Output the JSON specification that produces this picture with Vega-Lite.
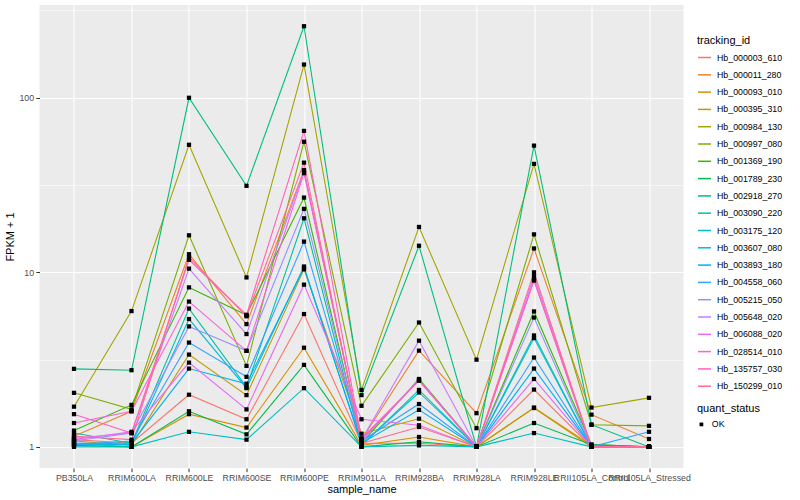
{
  "$schema": "https://vega.github.io/schema/vega-lite/v6.json",
  "autosize": {"type": "none"},
  "padding": {"left": 39.5, "top": 5, "right": 116.5, "bottom": 32},
  "width": 644,
  "height": 463,
  "background": "white",
  "config": {
    "font": "Liberation Sans",
    "view": {"fill": "#EBEBEB", "stroke": null},
    "axis": {"domain": false, "tickColor": "#333333", "tickSize": 3.7, "labelColor": "#4D4D4D", "labelFontSize": 8.8, "labelPadding": 2.2, "titleFontSize": 11, "titleFontWeight": "normal", "titleColor": "black", "gridColor": "white", "gridWidth": 1.1},
    "legend": {"titleFontSize": 11, "titleFontWeight": "normal", "titleColor": "black", "labelFontSize": 8.8, "labelColor": "black"}
  },
  "data": {"values": [
    {"tracking_id":"Hb_000003_610","sample_name":"PB350LA","FPKM":1.10,"quant_status":"OK"},
    {"tracking_id":"Hb_000003_610","sample_name":"RRIM600LA","FPKM":1.05,"quant_status":"OK"},
    {"tracking_id":"Hb_000003_610","sample_name":"RRIM600LE","FPKM":1.99,"quant_status":"OK"},
    {"tracking_id":"Hb_000003_610","sample_name":"RRIM600SE","FPKM":1.44,"quant_status":"OK"},
    {"tracking_id":"Hb_000003_610","sample_name":"RRIM600PE","FPKM":5.77,"quant_status":"OK"},
    {"tracking_id":"Hb_000003_610","sample_name":"RRIM901LA","FPKM":1.05,"quant_status":"OK"},
    {"tracking_id":"Hb_000003_610","sample_name":"RRIM928BA","FPKM":1.05,"quant_status":"OK"},
    {"tracking_id":"Hb_000003_610","sample_name":"RRIM928LA","FPKM":1.00,"quant_status":"OK"},
    {"tracking_id":"Hb_000003_610","sample_name":"RRIM928LE","FPKM":2.13,"quant_status":"OK"},
    {"tracking_id":"Hb_000003_610","sample_name":"RRII105LA_Control","FPKM":1.00,"quant_status":"OK"},
    {"tracking_id":"Hb_000003_610","sample_name":"RRII105LA_Stressed","FPKM":1.00,"quant_status":"OK"},
    {"tracking_id":"Hb_000011_280","sample_name":"PB350LA","FPKM":1.15,"quant_status":"OK"},
    {"tracking_id":"Hb_000011_280","sample_name":"RRIM600LA","FPKM":1.60,"quant_status":"OK"},
    {"tracking_id":"Hb_000011_280","sample_name":"RRIM600LE","FPKM":12.7,"quant_status":"OK"},
    {"tracking_id":"Hb_000011_280","sample_name":"RRIM600SE","FPKM":5.05,"quant_status":"OK"},
    {"tracking_id":"Hb_000011_280","sample_name":"RRIM600PE","FPKM":38.5,"quant_status":"OK"},
    {"tracking_id":"Hb_000011_280","sample_name":"RRIM901LA","FPKM":1.10,"quant_status":"OK"},
    {"tracking_id":"Hb_000011_280","sample_name":"RRIM928BA","FPKM":3.56,"quant_status":"OK"},
    {"tracking_id":"Hb_000011_280","sample_name":"RRIM928LA","FPKM":1.56,"quant_status":"OK"},
    {"tracking_id":"Hb_000011_280","sample_name":"RRIM928LE","FPKM":13.7,"quant_status":"OK"},
    {"tracking_id":"Hb_000011_280","sample_name":"RRII105LA_Control","FPKM":1.53,"quant_status":"OK"},
    {"tracking_id":"Hb_000011_280","sample_name":"RRII105LA_Stressed","FPKM":1.11,"quant_status":"OK"},
    {"tracking_id":"Hb_000093_010","sample_name":"PB350LA","FPKM":1.05,"quant_status":"OK"},
    {"tracking_id":"Hb_000093_010","sample_name":"RRIM600LA","FPKM":1.00,"quant_status":"OK"},
    {"tracking_id":"Hb_000093_010","sample_name":"RRIM600LE","FPKM":1.54,"quant_status":"OK"},
    {"tracking_id":"Hb_000093_010","sample_name":"RRIM600SE","FPKM":1.29,"quant_status":"OK"},
    {"tracking_id":"Hb_000093_010","sample_name":"RRIM600PE","FPKM":3.70,"quant_status":"OK"},
    {"tracking_id":"Hb_000093_010","sample_name":"RRIM901LA","FPKM":1.02,"quant_status":"OK"},
    {"tracking_id":"Hb_000093_010","sample_name":"RRIM928BA","FPKM":1.14,"quant_status":"OK"},
    {"tracking_id":"Hb_000093_010","sample_name":"RRIM928LA","FPKM":1.00,"quant_status":"OK"},
    {"tracking_id":"Hb_000093_010","sample_name":"RRIM928LE","FPKM":1.67,"quant_status":"OK"},
    {"tracking_id":"Hb_000093_010","sample_name":"RRII105LA_Control","FPKM":1.00,"quant_status":"OK"},
    {"tracking_id":"Hb_000093_010","sample_name":"RRII105LA_Stressed","FPKM":1.00,"quant_status":"OK"},
    {"tracking_id":"Hb_000395_310","sample_name":"PB350LA","FPKM":1.08,"quant_status":"OK"},
    {"tracking_id":"Hb_000395_310","sample_name":"RRIM600LA","FPKM":1.02,"quant_status":"OK"},
    {"tracking_id":"Hb_000395_310","sample_name":"RRIM600LE","FPKM":3.38,"quant_status":"OK"},
    {"tracking_id":"Hb_000395_310","sample_name":"RRIM600SE","FPKM":1.98,"quant_status":"OK"},
    {"tracking_id":"Hb_000395_310","sample_name":"RRIM600PE","FPKM":10.4,"quant_status":"OK"},
    {"tracking_id":"Hb_000395_310","sample_name":"RRIM901LA","FPKM":1.19,"quant_status":"OK"},
    {"tracking_id":"Hb_000395_310","sample_name":"RRIM928BA","FPKM":1.45,"quant_status":"OK"},
    {"tracking_id":"Hb_000395_310","sample_name":"RRIM928LA","FPKM":1.00,"quant_status":"OK"},
    {"tracking_id":"Hb_000395_310","sample_name":"RRIM928LE","FPKM":1.68,"quant_status":"OK"},
    {"tracking_id":"Hb_000395_310","sample_name":"RRII105LA_Control","FPKM":1.02,"quant_status":"OK"},
    {"tracking_id":"Hb_000395_310","sample_name":"RRII105LA_Stressed","FPKM":1.00,"quant_status":"OK"},
    {"tracking_id":"Hb_000984_130","sample_name":"PB350LA","FPKM":1.70,"quant_status":"OK"},
    {"tracking_id":"Hb_000984_130","sample_name":"RRIM600LA","FPKM":6.00,"quant_status":"OK"},
    {"tracking_id":"Hb_000984_130","sample_name":"RRIM600LE","FPKM":53.8,"quant_status":"OK"},
    {"tracking_id":"Hb_000984_130","sample_name":"RRIM600SE","FPKM":9.35,"quant_status":"OK"},
    {"tracking_id":"Hb_000984_130","sample_name":"RRIM600PE","FPKM":155,"quant_status":"OK"},
    {"tracking_id":"Hb_000984_130","sample_name":"RRIM901LA","FPKM":2.12,"quant_status":"OK"},
    {"tracking_id":"Hb_000984_130","sample_name":"RRIM928BA","FPKM":18.2,"quant_status":"OK"},
    {"tracking_id":"Hb_000984_130","sample_name":"RRIM928LA","FPKM":3.16,"quant_status":"OK"},
    {"tracking_id":"Hb_000984_130","sample_name":"RRIM928LE","FPKM":41.8,"quant_status":"OK"},
    {"tracking_id":"Hb_000984_130","sample_name":"RRII105LA_Control","FPKM":1.68,"quant_status":"OK"},
    {"tracking_id":"Hb_000984_130","sample_name":"RRII105LA_Stressed","FPKM":1.91,"quant_status":"OK"},
    {"tracking_id":"Hb_000997_080","sample_name":"PB350LA","FPKM":2.04,"quant_status":"OK"},
    {"tracking_id":"Hb_000997_080","sample_name":"RRIM600LA","FPKM":1.64,"quant_status":"OK"},
    {"tracking_id":"Hb_000997_080","sample_name":"RRIM600LE","FPKM":16.3,"quant_status":"OK"},
    {"tracking_id":"Hb_000997_080","sample_name":"RRIM600SE","FPKM":2.91,"quant_status":"OK"},
    {"tracking_id":"Hb_000997_080","sample_name":"RRIM600PE","FPKM":56.0,"quant_status":"OK"},
    {"tracking_id":"Hb_000997_080","sample_name":"RRIM901LA","FPKM":1.72,"quant_status":"OK"},
    {"tracking_id":"Hb_000997_080","sample_name":"RRIM928BA","FPKM":5.16,"quant_status":"OK"},
    {"tracking_id":"Hb_000997_080","sample_name":"RRIM928LA","FPKM":1.28,"quant_status":"OK"},
    {"tracking_id":"Hb_000997_080","sample_name":"RRIM928LE","FPKM":16.5,"quant_status":"OK"},
    {"tracking_id":"Hb_000997_080","sample_name":"RRII105LA_Control","FPKM":1.34,"quant_status":"OK"},
    {"tracking_id":"Hb_000997_080","sample_name":"RRII105LA_Stressed","FPKM":1.32,"quant_status":"OK"},
    {"tracking_id":"Hb_001369_190","sample_name":"PB350LA","FPKM":1.24,"quant_status":"OK"},
    {"tracking_id":"Hb_001369_190","sample_name":"RRIM600LA","FPKM":1.74,"quant_status":"OK"},
    {"tracking_id":"Hb_001369_190","sample_name":"RRIM600LE","FPKM":8.2,"quant_status":"OK"},
    {"tracking_id":"Hb_001369_190","sample_name":"RRIM600SE","FPKM":5.70,"quant_status":"OK"},
    {"tracking_id":"Hb_001369_190","sample_name":"RRIM600PE","FPKM":26.8,"quant_status":"OK"},
    {"tracking_id":"Hb_001369_190","sample_name":"RRIM901LA","FPKM":1.05,"quant_status":"OK"},
    {"tracking_id":"Hb_001369_190","sample_name":"RRIM928BA","FPKM":2.45,"quant_status":"OK"},
    {"tracking_id":"Hb_001369_190","sample_name":"RRIM928LA","FPKM":1.00,"quant_status":"OK"},
    {"tracking_id":"Hb_001369_190","sample_name":"RRIM928LE","FPKM":5.97,"quant_status":"OK"},
    {"tracking_id":"Hb_001369_190","sample_name":"RRII105LA_Control","FPKM":1.03,"quant_status":"OK"},
    {"tracking_id":"Hb_001369_190","sample_name":"RRII105LA_Stressed","FPKM":1.00,"quant_status":"OK"},
    {"tracking_id":"Hb_001789_230","sample_name":"PB350LA","FPKM":1.02,"quant_status":"OK"},
    {"tracking_id":"Hb_001789_230","sample_name":"RRIM600LA","FPKM":1.00,"quant_status":"OK"},
    {"tracking_id":"Hb_001789_230","sample_name":"RRIM600LE","FPKM":1.60,"quant_status":"OK"},
    {"tracking_id":"Hb_001789_230","sample_name":"RRIM600SE","FPKM":1.18,"quant_status":"OK"},
    {"tracking_id":"Hb_001789_230","sample_name":"RRIM600PE","FPKM":2.95,"quant_status":"OK"},
    {"tracking_id":"Hb_001789_230","sample_name":"RRIM901LA","FPKM":1.00,"quant_status":"OK"},
    {"tracking_id":"Hb_001789_230","sample_name":"RRIM928BA","FPKM":1.07,"quant_status":"OK"},
    {"tracking_id":"Hb_001789_230","sample_name":"RRIM928LA","FPKM":1.00,"quant_status":"OK"},
    {"tracking_id":"Hb_001789_230","sample_name":"RRIM928LE","FPKM":1.37,"quant_status":"OK"},
    {"tracking_id":"Hb_001789_230","sample_name":"RRII105LA_Control","FPKM":1.03,"quant_status":"OK"},
    {"tracking_id":"Hb_001789_230","sample_name":"RRII105LA_Stressed","FPKM":1.00,"quant_status":"OK"},
    {"tracking_id":"Hb_002918_270","sample_name":"PB350LA","FPKM":2.80,"quant_status":"OK"},
    {"tracking_id":"Hb_002918_270","sample_name":"RRIM600LA","FPKM":2.75,"quant_status":"OK"},
    {"tracking_id":"Hb_002918_270","sample_name":"RRIM600LE","FPKM":100,"quant_status":"OK"},
    {"tracking_id":"Hb_002918_270","sample_name":"RRIM600SE","FPKM":31.3,"quant_status":"OK"},
    {"tracking_id":"Hb_002918_270","sample_name":"RRIM600PE","FPKM":257,"quant_status":"OK"},
    {"tracking_id":"Hb_002918_270","sample_name":"RRIM901LA","FPKM":1.98,"quant_status":"OK"},
    {"tracking_id":"Hb_002918_270","sample_name":"RRIM928BA","FPKM":14.2,"quant_status":"OK"},
    {"tracking_id":"Hb_002918_270","sample_name":"RRIM928LA","FPKM":1.00,"quant_status":"OK"},
    {"tracking_id":"Hb_002918_270","sample_name":"RRIM928LE","FPKM":53.2,"quant_status":"OK"},
    {"tracking_id":"Hb_002918_270","sample_name":"RRII105LA_Control","FPKM":1.34,"quant_status":"OK"},
    {"tracking_id":"Hb_002918_270","sample_name":"RRII105LA_Stressed","FPKM":1.00,"quant_status":"OK"},
    {"tracking_id":"Hb_003090_220","sample_name":"PB350LA","FPKM":1.20,"quant_status":"OK"},
    {"tracking_id":"Hb_003090_220","sample_name":"RRIM600LA","FPKM":1.05,"quant_status":"OK"},
    {"tracking_id":"Hb_003090_220","sample_name":"RRIM600LE","FPKM":6.2,"quant_status":"OK"},
    {"tracking_id":"Hb_003090_220","sample_name":"RRIM600SE","FPKM":2.20,"quant_status":"OK"},
    {"tracking_id":"Hb_003090_220","sample_name":"RRIM600PE","FPKM":20.4,"quant_status":"OK"},
    {"tracking_id":"Hb_003090_220","sample_name":"RRIM901LA","FPKM":1.02,"quant_status":"OK"},
    {"tracking_id":"Hb_003090_220","sample_name":"RRIM928BA","FPKM":2.12,"quant_status":"OK"},
    {"tracking_id":"Hb_003090_220","sample_name":"RRIM928LA","FPKM":1.00,"quant_status":"OK"},
    {"tracking_id":"Hb_003090_220","sample_name":"RRIM928LE","FPKM":4.35,"quant_status":"OK"},
    {"tracking_id":"Hb_003090_220","sample_name":"RRII105LA_Control","FPKM":1.00,"quant_status":"OK"},
    {"tracking_id":"Hb_003090_220","sample_name":"RRII105LA_Stressed","FPKM":1.00,"quant_status":"OK"},
    {"tracking_id":"Hb_003175_120","sample_name":"PB350LA","FPKM":1.00,"quant_status":"OK"},
    {"tracking_id":"Hb_003175_120","sample_name":"RRIM600LA","FPKM":1.00,"quant_status":"OK"},
    {"tracking_id":"Hb_003175_120","sample_name":"RRIM600LE","FPKM":1.22,"quant_status":"OK"},
    {"tracking_id":"Hb_003175_120","sample_name":"RRIM600SE","FPKM":1.10,"quant_status":"OK"},
    {"tracking_id":"Hb_003175_120","sample_name":"RRIM600PE","FPKM":2.17,"quant_status":"OK"},
    {"tracking_id":"Hb_003175_120","sample_name":"RRIM901LA","FPKM":1.00,"quant_status":"OK"},
    {"tracking_id":"Hb_003175_120","sample_name":"RRIM928BA","FPKM":1.02,"quant_status":"OK"},
    {"tracking_id":"Hb_003175_120","sample_name":"RRIM928LA","FPKM":1.00,"quant_status":"OK"},
    {"tracking_id":"Hb_003175_120","sample_name":"RRIM928LE","FPKM":1.20,"quant_status":"OK"},
    {"tracking_id":"Hb_003175_120","sample_name":"RRII105LA_Control","FPKM":1.00,"quant_status":"OK"},
    {"tracking_id":"Hb_003175_120","sample_name":"RRII105LA_Stressed","FPKM":1.00,"quant_status":"OK"},
    {"tracking_id":"Hb_003607_080","sample_name":"PB350LA","FPKM":1.03,"quant_status":"OK"},
    {"tracking_id":"Hb_003607_080","sample_name":"RRIM600LA","FPKM":1.03,"quant_status":"OK"},
    {"tracking_id":"Hb_003607_080","sample_name":"RRIM600LE","FPKM":5.4,"quant_status":"OK"},
    {"tracking_id":"Hb_003607_080","sample_name":"RRIM600SE","FPKM":2.17,"quant_status":"OK"},
    {"tracking_id":"Hb_003607_080","sample_name":"RRIM600PE","FPKM":10.8,"quant_status":"OK"},
    {"tracking_id":"Hb_003607_080","sample_name":"RRIM901LA","FPKM":1.03,"quant_status":"OK"},
    {"tracking_id":"Hb_003607_080","sample_name":"RRIM928BA","FPKM":2.05,"quant_status":"OK"},
    {"tracking_id":"Hb_003607_080","sample_name":"RRIM928LA","FPKM":1.00,"quant_status":"OK"},
    {"tracking_id":"Hb_003607_080","sample_name":"RRIM928LE","FPKM":4.20,"quant_status":"OK"},
    {"tracking_id":"Hb_003607_080","sample_name":"RRII105LA_Control","FPKM":1.00,"quant_status":"OK"},
    {"tracking_id":"Hb_003607_080","sample_name":"RRII105LA_Stressed","FPKM":1.00,"quant_status":"OK"},
    {"tracking_id":"Hb_003893_180","sample_name":"PB350LA","FPKM":1.05,"quant_status":"OK"},
    {"tracking_id":"Hb_003893_180","sample_name":"RRIM600LA","FPKM":1.05,"quant_status":"OK"},
    {"tracking_id":"Hb_003893_180","sample_name":"RRIM600LE","FPKM":2.81,"quant_status":"OK"},
    {"tracking_id":"Hb_003893_180","sample_name":"RRIM600SE","FPKM":2.30,"quant_status":"OK"},
    {"tracking_id":"Hb_003893_180","sample_name":"RRIM600PE","FPKM":10.6,"quant_status":"OK"},
    {"tracking_id":"Hb_003893_180","sample_name":"RRIM901LA","FPKM":1.05,"quant_status":"OK"},
    {"tracking_id":"Hb_003893_180","sample_name":"RRIM928BA","FPKM":1.63,"quant_status":"OK"},
    {"tracking_id":"Hb_003893_180","sample_name":"RRIM928LA","FPKM":1.00,"quant_status":"OK"},
    {"tracking_id":"Hb_003893_180","sample_name":"RRIM928LE","FPKM":2.81,"quant_status":"OK"},
    {"tracking_id":"Hb_003893_180","sample_name":"RRII105LA_Control","FPKM":1.00,"quant_status":"OK"},
    {"tracking_id":"Hb_003893_180","sample_name":"RRII105LA_Stressed","FPKM":1.00,"quant_status":"OK"},
    {"tracking_id":"Hb_004558_060","sample_name":"PB350LA","FPKM":1.03,"quant_status":"OK"},
    {"tracking_id":"Hb_004558_060","sample_name":"RRIM600LA","FPKM":1.08,"quant_status":"OK"},
    {"tracking_id":"Hb_004558_060","sample_name":"RRIM600LE","FPKM":3.96,"quant_status":"OK"},
    {"tracking_id":"Hb_004558_060","sample_name":"RRIM600SE","FPKM":2.52,"quant_status":"OK"},
    {"tracking_id":"Hb_004558_060","sample_name":"RRIM600PE","FPKM":15.0,"quant_status":"OK"},
    {"tracking_id":"Hb_004558_060","sample_name":"RRIM901LA","FPKM":1.08,"quant_status":"OK"},
    {"tracking_id":"Hb_004558_060","sample_name":"RRIM928BA","FPKM":1.76,"quant_status":"OK"},
    {"tracking_id":"Hb_004558_060","sample_name":"RRIM928LA","FPKM":1.00,"quant_status":"OK"},
    {"tracking_id":"Hb_004558_060","sample_name":"RRIM928LE","FPKM":3.25,"quant_status":"OK"},
    {"tracking_id":"Hb_004558_060","sample_name":"RRII105LA_Control","FPKM":1.00,"quant_status":"OK"},
    {"tracking_id":"Hb_004558_060","sample_name":"RRII105LA_Stressed","FPKM":1.22,"quant_status":"OK"},
    {"tracking_id":"Hb_005215_050","sample_name":"PB350LA","FPKM":1.08,"quant_status":"OK"},
    {"tracking_id":"Hb_005215_050","sample_name":"RRIM600LA","FPKM":1.20,"quant_status":"OK"},
    {"tracking_id":"Hb_005215_050","sample_name":"RRIM600LE","FPKM":4.9,"quant_status":"OK"},
    {"tracking_id":"Hb_005215_050","sample_name":"RRIM600SE","FPKM":3.55,"quant_status":"OK"},
    {"tracking_id":"Hb_005215_050","sample_name":"RRIM600PE","FPKM":23.1,"quant_status":"OK"},
    {"tracking_id":"Hb_005215_050","sample_name":"RRIM901LA","FPKM":1.08,"quant_status":"OK"},
    {"tracking_id":"Hb_005215_050","sample_name":"RRIM928BA","FPKM":2.42,"quant_status":"OK"},
    {"tracking_id":"Hb_005215_050","sample_name":"RRIM928LA","FPKM":1.00,"quant_status":"OK"},
    {"tracking_id":"Hb_005215_050","sample_name":"RRIM928LE","FPKM":5.51,"quant_status":"OK"},
    {"tracking_id":"Hb_005215_050","sample_name":"RRII105LA_Control","FPKM":1.00,"quant_status":"OK"},
    {"tracking_id":"Hb_005215_050","sample_name":"RRII105LA_Stressed","FPKM":1.00,"quant_status":"OK"},
    {"tracking_id":"Hb_005648_020","sample_name":"PB350LA","FPKM":1.12,"quant_status":"OK"},
    {"tracking_id":"Hb_005648_020","sample_name":"RRIM600LA","FPKM":1.20,"quant_status":"OK"},
    {"tracking_id":"Hb_005648_020","sample_name":"RRIM600LE","FPKM":10.5,"quant_status":"OK"},
    {"tracking_id":"Hb_005648_020","sample_name":"RRIM600SE","FPKM":4.43,"quant_status":"OK"},
    {"tracking_id":"Hb_005648_020","sample_name":"RRIM600PE","FPKM":38.0,"quant_status":"OK"},
    {"tracking_id":"Hb_005648_020","sample_name":"RRIM901LA","FPKM":1.10,"quant_status":"OK"},
    {"tracking_id":"Hb_005648_020","sample_name":"RRIM928BA","FPKM":4.06,"quant_status":"OK"},
    {"tracking_id":"Hb_005648_020","sample_name":"RRIM928LA","FPKM":1.00,"quant_status":"OK"},
    {"tracking_id":"Hb_005648_020","sample_name":"RRIM928LE","FPKM":9.5,"quant_status":"OK"},
    {"tracking_id":"Hb_005648_020","sample_name":"RRII105LA_Control","FPKM":1.00,"quant_status":"OK"},
    {"tracking_id":"Hb_005648_020","sample_name":"RRII105LA_Stressed","FPKM":1.00,"quant_status":"OK"},
    {"tracking_id":"Hb_006088_020","sample_name":"PB350LA","FPKM":1.10,"quant_status":"OK"},
    {"tracking_id":"Hb_006088_020","sample_name":"RRIM600LA","FPKM":1.22,"quant_status":"OK"},
    {"tracking_id":"Hb_006088_020","sample_name":"RRIM600LE","FPKM":3.04,"quant_status":"OK"},
    {"tracking_id":"Hb_006088_020","sample_name":"RRIM600SE","FPKM":1.64,"quant_status":"OK"},
    {"tracking_id":"Hb_006088_020","sample_name":"RRIM600PE","FPKM":8.5,"quant_status":"OK"},
    {"tracking_id":"Hb_006088_020","sample_name":"RRIM901LA","FPKM":1.44,"quant_status":"OK"},
    {"tracking_id":"Hb_006088_020","sample_name":"RRIM928BA","FPKM":1.33,"quant_status":"OK"},
    {"tracking_id":"Hb_006088_020","sample_name":"RRIM928LA","FPKM":1.00,"quant_status":"OK"},
    {"tracking_id":"Hb_006088_020","sample_name":"RRIM928LE","FPKM":2.45,"quant_status":"OK"},
    {"tracking_id":"Hb_006088_020","sample_name":"RRII105LA_Control","FPKM":1.00,"quant_status":"OK"},
    {"tracking_id":"Hb_006088_020","sample_name":"RRII105LA_Stressed","FPKM":1.00,"quant_status":"OK"},
    {"tracking_id":"Hb_028514_010","sample_name":"PB350LA","FPKM":1.37,"quant_status":"OK"},
    {"tracking_id":"Hb_028514_010","sample_name":"RRIM600LA","FPKM":1.60,"quant_status":"OK"},
    {"tracking_id":"Hb_028514_010","sample_name":"RRIM600LE","FPKM":6.8,"quant_status":"OK"},
    {"tracking_id":"Hb_028514_010","sample_name":"RRIM600SE","FPKM":3.55,"quant_status":"OK"},
    {"tracking_id":"Hb_028514_010","sample_name":"RRIM600PE","FPKM":37.0,"quant_status":"OK"},
    {"tracking_id":"Hb_028514_010","sample_name":"RRIM901LA","FPKM":1.10,"quant_status":"OK"},
    {"tracking_id":"Hb_028514_010","sample_name":"RRIM928BA","FPKM":2.40,"quant_status":"OK"},
    {"tracking_id":"Hb_028514_010","sample_name":"RRIM928LA","FPKM":1.00,"quant_status":"OK"},
    {"tracking_id":"Hb_028514_010","sample_name":"RRIM928LE","FPKM":9.0,"quant_status":"OK"},
    {"tracking_id":"Hb_028514_010","sample_name":"RRII105LA_Control","FPKM":1.00,"quant_status":"OK"},
    {"tracking_id":"Hb_028514_010","sample_name":"RRII105LA_Stressed","FPKM":1.00,"quant_status":"OK"},
    {"tracking_id":"Hb_135757_030","sample_name":"PB350LA","FPKM":1.54,"quant_status":"OK"},
    {"tracking_id":"Hb_135757_030","sample_name":"RRIM600LA","FPKM":1.20,"quant_status":"OK"},
    {"tracking_id":"Hb_135757_030","sample_name":"RRIM600LE","FPKM":11.8,"quant_status":"OK"},
    {"tracking_id":"Hb_135757_030","sample_name":"RRIM600SE","FPKM":5.70,"quant_status":"OK"},
    {"tracking_id":"Hb_135757_030","sample_name":"RRIM600PE","FPKM":64.6,"quant_status":"OK"},
    {"tracking_id":"Hb_135757_030","sample_name":"RRIM901LA","FPKM":1.12,"quant_status":"OK"},
    {"tracking_id":"Hb_135757_030","sample_name":"RRIM928BA","FPKM":2.40,"quant_status":"OK"},
    {"tracking_id":"Hb_135757_030","sample_name":"RRIM928LA","FPKM":1.00,"quant_status":"OK"},
    {"tracking_id":"Hb_135757_030","sample_name":"RRIM928LE","FPKM":9.0,"quant_status":"OK"},
    {"tracking_id":"Hb_135757_030","sample_name":"RRII105LA_Control","FPKM":1.00,"quant_status":"OK"},
    {"tracking_id":"Hb_135757_030","sample_name":"RRII105LA_Stressed","FPKM":1.00,"quant_status":"OK"},
    {"tracking_id":"Hb_150299_010","sample_name":"PB350LA","FPKM":1.15,"quant_status":"OK"},
    {"tracking_id":"Hb_150299_010","sample_name":"RRIM600LA","FPKM":1.10,"quant_status":"OK"},
    {"tracking_id":"Hb_150299_010","sample_name":"RRIM600LE","FPKM":12.2,"quant_status":"OK"},
    {"tracking_id":"Hb_150299_010","sample_name":"RRIM600SE","FPKM":5.60,"quant_status":"OK"},
    {"tracking_id":"Hb_150299_010","sample_name":"RRIM600PE","FPKM":42.5,"quant_status":"OK"},
    {"tracking_id":"Hb_150299_010","sample_name":"RRIM901LA","FPKM":1.05,"quant_status":"OK"},
    {"tracking_id":"Hb_150299_010","sample_name":"RRIM928BA","FPKM":1.30,"quant_status":"OK"},
    {"tracking_id":"Hb_150299_010","sample_name":"RRIM928LA","FPKM":1.00,"quant_status":"OK"},
    {"tracking_id":"Hb_150299_010","sample_name":"RRIM928LE","FPKM":10.0,"quant_status":"OK"},
    {"tracking_id":"Hb_150299_010","sample_name":"RRII105LA_Control","FPKM":1.00,"quant_status":"OK"},
    {"tracking_id":"Hb_150299_010","sample_name":"RRII105LA_Stressed","FPKM":1.00,"quant_status":"OK"}
  ]},
  "encoding": {
    "x": {"field": "sample_name", "type": "nominal", "sort": null,
      "scale": {"type": "point", "padding": 0.6},
      "axis": {"labelAngle": 0, "labelOverlap": false, "title": "sample_name", "titlePadding": 1, "grid": true}},
    "y": {"field": "FPKM", "type": "quantitative",
      "scale": {"type": "log", "domain": [0.757, 340], "nice": false, "zero": false},
      "axis": {"title": "FPKM + 1", "values": [1, 3.1623, 10, 31.623, 100, 316.23],
        "labelExpr": "(datum.value == 1 || datum.value == 10 || datum.value == 100) ? datum.label : ''",
        "gridWidth": {"condition": {"test": "datum.value == 1 || datum.value == 10 || datum.value == 100", "value": 1.1}, "value": 0.55},
        "tickOpacity": {"condition": {"test": "datum.value == 1 || datum.value == 10 || datum.value == 100", "value": 1}, "value": 0},
        "titlePadding": 3}}
  },
  "layer": [
    {"mark": {"type": "line", "strokeWidth": 1.1},
     "encoding": {
       "color": {"field": "tracking_id", "type": "nominal", "title": "tracking_id",
         "scale": {"range": ["#F8766D","#EA8331","#D89000","#C09B00","#A3A500","#7CAE00","#39B600","#00BB4E","#00BF7D","#00C1A3","#00BFC4","#00BAE0","#00B0F6","#35A2FF","#9590FF","#C77CFF","#E76BF3","#FA62DB","#FF62BC","#FF6C91"]},
         "legend": {"orient": "none", "legendX": 657.5, "legendY": 30, "symbolType": "stroke", "symbolSize": 169, "symbolStrokeWidth": 1.5, "rowPadding": 4.3, "titlePadding": 4, "labelOffset": 5}}
     }},
    {"mark": {"type": "point", "filled": true, "color": "black", "size": 18, "opacity": 1},
     "encoding": {
       "shape": {"field": "quant_status", "type": "nominal", "title": "quant_status",
         "scale": {"range": ["square"]},
         "legend": {"orient": "none", "legendX": 657.5, "legendY": 398, "symbolSize": 14, "symbolFillColor": "black", "symbolStrokeColor": "black", "titlePadding": 6, "labelOffset": 6}}
     }}
  ]
}
